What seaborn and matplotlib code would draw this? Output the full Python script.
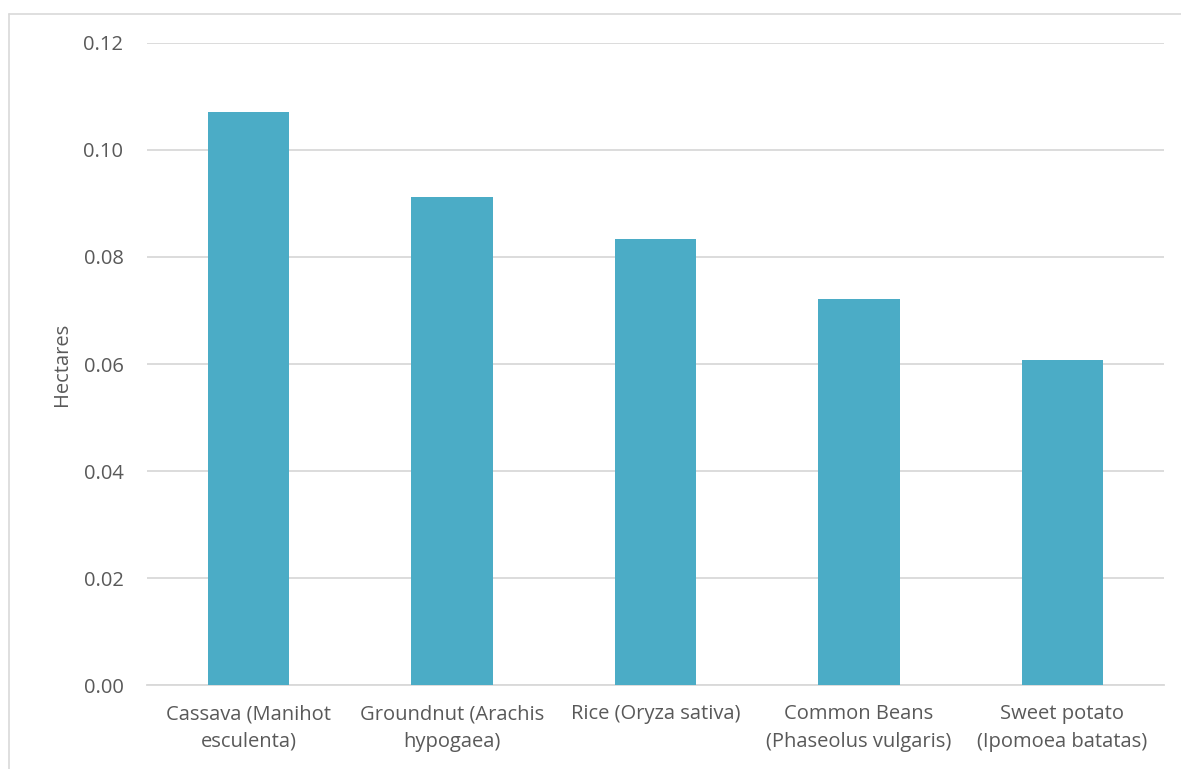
import pandas as pd
import matplotlib.pyplot as plt
import seaborn as sns
from matplotlib.ticker import FormatStrFormatter

# Crop area per type (hectares)
crops = ['Cassava (Manihot\nesculenta)', 'Groundnut (Arachis\nhypogaea)',
         'Rice (Oryza sativa)', 'Common Beans\n(Phaseolus vulgaris)',
         'Sweet potato\n(Ipomoea batatas)']
hectares = [0.1071, 0.0912, 0.0833, 0.0721, 0.0607]

df = pd.DataFrame({'crop': crops, 'hectares': hectares})

sns.set_theme(style='white')
plt.rcParams['font.family'] = ['Open Sans', 'DejaVu Sans']
text_col = '#595959'

fig = plt.figure(figsize=(11.81, 7.69), dpi=100)
ax = fig.add_axes([0.1245, 0.1092, 0.8611, 0.8349])

sns.barplot(data=df, x='crop', y='hectares', color='#4BACC6', saturation=1,
            width=0.40, ax=ax, zorder=3, linewidth=0)

ax.set_ylim(0, 0.12)
ax.set_yticks([0, 0.02, 0.04, 0.06, 0.08, 0.10, 0.12])
ax.yaxis.set_major_formatter(FormatStrFormatter('%.2f'))
ax.grid(axis='y', color='#D9D9D9', linewidth=1.3, zorder=0)
ax.set_axisbelow(True)
for s in ['top', 'right', 'left']:
    ax.spines[s].set_visible(False)
ax.spines['bottom'].set_color('#D9D9D9')
ax.spines['bottom'].set_linewidth(1.3)

ax.tick_params(axis='both', length=0, labelsize=14.5, colors=text_col)
ax.tick_params(axis='y', pad=17)
ax.tick_params(axis='x', pad=14)
for lbl in ax.get_xticklabels():
    lbl.set_linespacing(1.5)
ax.set_xlabel('')
ax.set_ylabel('Hectares', fontsize=14.5, color=text_col, labelpad=8)

# outer chart frame (top and left edges visible)
fig.add_artist(plt.Line2D([9 / 1181, 1181 / 1181], [1 - 14 / 769, 1 - 14 / 769],
                          color='#D9D9D9', linewidth=1.2, transform=fig.transFigure))
fig.add_artist(plt.Line2D([9 / 1181, 9 / 1181], [0, 1 - 14 / 769],
                          color='#D9D9D9', linewidth=1.2, transform=fig.transFigure))

fig.savefig('out.png', dpi=100)
